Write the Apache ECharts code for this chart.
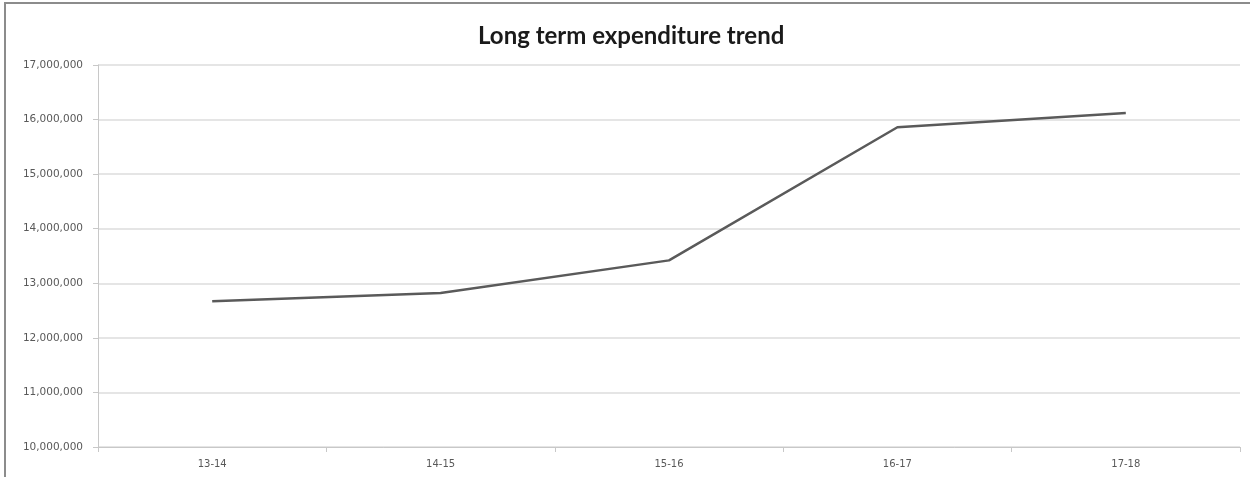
<!DOCTYPE html>
<html>
<head>
<meta charset="utf-8">
<script src="https://cdn.jsdelivr.net/npm/echarts@6/dist/echarts.min.js"></script>
<style>
  html, body { margin: 0; padding: 0; background: #fff; }
  #frame { position: absolute; left: 4px; top: 2px; width: 1246px; height: 475px;
           border-left: 2px solid #8c8c8c; border-top: 2px solid #8c8c8c; box-sizing: border-box; }
  #chart { width: 1250px; height: 477px; }
</style>
</head>
<body>
<div id="chart"></div>
<div id="frame"></div>
<script>
var years = ["13-14", "14-15", "15-16", "16-17", "17-18"];
var spend = [12670000, 12820000, 13420000, 15860000, 16120000];
var yMin = 10000000, yMax = 17000000, yStep = 1000000;

var myChart = echarts.init(document.getElementById("chart"));
var option = {
    animation: false,
    title: {
        text: "Long term expenditure trend",
        left: 473,
        top: 19,
        textStyle: { fontFamily: "Lato", fontWeight: "bold", fontSize: 24, color: "#1a1a1a" }
    },
    grid: { left: 98, right: 10, top: 65, bottom: 30 },
    xAxis: {
        type: "category",
        data: years,
        boundaryGap: true,
        axisLine: { lineStyle: { color: "#c8c8c8", width: 1 } },
        axisTick: { show: true, length: 5, lineStyle: { color: "#c8c8c8" } },
        axisLabel: { color: "#595959", fontSize: 10, fontFamily: "DejaVu Sans", margin: 12 }
    },
    yAxis: {
        type: "value",
        min: yMin,
        max: yMax,
        interval: yStep,
        axisLine: { show: true, lineStyle: { color: "#c8c8c8", width: 1 } },
        axisTick: { show: true, length: 5, lineStyle: { color: "#c8c8c8" } },
        axisLabel: {
            color: "#595959", fontSize: 10.5, fontFamily: "DejaVu Sans", margin: 15,
            formatter: function (v) { return v.toLocaleString("en-US"); }
        },
        splitLine: { lineStyle: { color: "#dcdcdc", width: 1.5 } }
    },
    series: [{
        name: "Expenditure",
        type: "line",
        data: spend,
        symbol: "none",
        lineStyle: { color: "#5a5a5a", width: 2.5 }
    }]
};
myChart.setOption(option);
</script>
</body>
</html>
